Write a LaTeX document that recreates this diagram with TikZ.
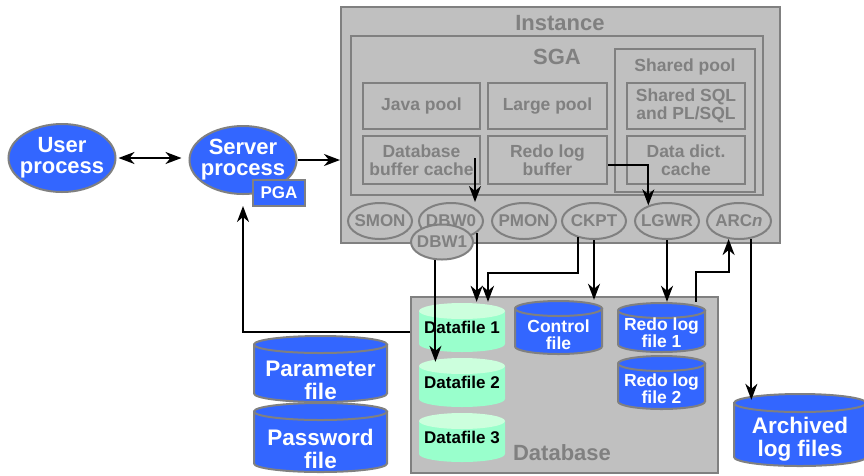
\documentclass[tikz,border=0pt]{standalone}
\usepackage{fontspec}
\setmainfont{Liberation Sans}
\usetikzlibrary{calc,shapes.geometric,arrows.meta}
\tikzset{>={Stealth[length=16pt,width=12pt,inset=5pt]}}
\definecolor{oblue}{HTML}{3366FF}
\definecolor{ogray}{HTML}{C0C0C0}
\definecolor{oline}{HTML}{808080}
\definecolor{omint}{HTML}{99FFCC}
\definecolor{omintlt}{HTML}{CCFFDD}
\tikzset{
  area/.style={draw=oline,line width=2pt,fill=ogray,inner sep=0pt},
  areatxt/.style={text=oline,inner sep=0pt,font=\bfseries\fontsize{22}{22}\selectfont},
  memtxt/.style={text=oline,inner sep=0pt,align=center,font=\bfseries\fontsize{17.5}{18}\selectfont},
  membox/.style={memtxt,draw=oline,line width=2pt},
  bgproc/.style={ellipse,draw=oline,line width=2pt,fill=ogray,minimum width=64pt,minimum height=36pt,
    inner sep=-8pt,text=oline,font=\bfseries\fontsize{17}{17}\selectfont},
  fgproc/.style={ellipse,draw=oline,line width=2pt,fill=oblue,minimum width=107pt,minimum height=68pt,
    inner sep=-8pt,align=center,text=white,font=\bfseries\fontsize{22}{21}\selectfont},
  can ry/.initial=8pt,
  can line/.initial=oline,
  can body/.initial=oblue,
  can end/.initial=oblue,
  can/.style={inner sep=0pt,path picture={
    \draw[line width=2pt,draw=\pgfkeysvalueof{/tikz/can line},fill=\pgfkeysvalueof{/tikz/can body}]
      let \p1=(path picture bounding box.south west),\p2=(path picture bounding box.north east),
          \n1={\pgfkeysvalueof{/tikz/can ry}},\n2={(\x2-\x1)/2-1pt} in
      (\x1+1pt,\y2-1pt-\n1) -- (\x1+1pt,\y1+1pt+\n1)
      arc[start angle=180,end angle=360,x radius=\n2,y radius=\n1]
      -- (\x2-1pt,\y2-1pt-\n1) -- cycle;
    \draw[line width=2pt,draw=\pgfkeysvalueof{/tikz/can line},fill=\pgfkeysvalueof{/tikz/can end}]
      let \p1=(path picture bounding box.south west),\p2=(path picture bounding box.north east),
          \n1={\pgfkeysvalueof{/tikz/can ry}},\n2={(\x2-\x1)/2-1pt} in
      (\x1/2+\x2/2,\y2-1pt-\n1) ellipse[x radius=\n2,y radius=\n1];
  }},
  filetxt/.style={text=white,align=center,inner sep=0pt,font=\bfseries\fontsize{17.5}{17}\selectfont},
  bigtxt/.style={filetxt,font=\bfseries\fontsize{22.5}{23}\selectfont},
  datafile/.style={can,can line=none,can body=omint,can end=omintlt,minimum width=88pt,minimum height=51pt,
    font=\bfseries\fontsize{17}{17}\selectfont},
  flow/.style={->,line width=2pt}
}
\begin{document}
\begin{tikzpicture}[x=1pt,y=-1pt]
\useasboundingbox (0,0) rectangle (864,475);
\node[area,minimum width=439pt,minimum height=236pt] (inst) at (560.5,125) {};
\node[areatxt] at (560,23) {Instance};
\node[area,minimum width=412pt,minimum height=159pt] (sga) at (557,115.5) {};
\node[areatxt] at (557,57) {SGA};
\node[area,minimum width=140pt,minimum height=143pt] (shpool) at (685,120.5) {};
\node[memtxt] at (685,67) {Shared pool};
\node[membox,minimum width=117pt,minimum height=46pt] (java) at (421.5,106) {Java pool};
\node[membox,minimum width=119pt,minimum height=46pt] (large) at (547.5,106) {Large pool};
\node[membox,minimum width=118pt,minimum height=46pt] (sql) at (686,106) {Shared SQL\\and PL/SQL};
\node[membox,minimum width=117pt,minimum height=48pt] (dbcache) at (421.5,160) {Database\\buffer cache};
\node[membox,minimum width=119pt,minimum height=48pt] (redobuf) at (547.5,160) {Redo log\\buffer};
\node[membox,minimum width=118pt,minimum height=48pt] (dict) at (686,160) {Data dict.\\cache};
\node[bgproc] (smon) at (380,221) {SMON};
\node[bgproc] (dbw0) at (451,221) {DBW0};
\node[bgproc] (pmon) at (524,221) {PMON};
\node[bgproc] (ckpt) at (594,221) {CKPT};
\node[bgproc] (lgwr) at (667,221) {LGWR};
\node[bgproc] (arcn) at (739,221) {ARC\textit{n}};
\node[bgproc,minimum width=62pt,minimum height=35pt] (dbw1) at (442,242) {DBW1};
\node[area,minimum width=307pt,minimum height=176pt] (db) at (564.5,385) {};
\node[areatxt] at (562,453) {Database};
\node[datafile] (df1) at (462,327.5) {Datafile 1};
\node[datafile] (df2) at (462,382.5) {Datafile 2};
\node[datafile] (df3) at (462,437.5) {Datafile 3};
\node[can,can ry=7.5pt,minimum width=89pt,minimum height=55pt,
  label={[filetxt,yshift=-7pt]center:{Control\\file}}] (ctrl) at (558.5,327.5) {};
\node[can,can ry=7.5pt,minimum width=89pt,minimum height=51pt,
  label={[filetxt,yshift=-5pt]center:{Redo log\\file 1}}] (redo1) at (661.5,327.5) {};
\node[can,can ry=7.5pt,minimum width=89pt,minimum height=55pt,
  label={[filetxt,yshift=-6pt]center:{Redo log\\file 2}}] (redo2) at (661.5,382.5) {};
\node[can,can ry=8.5pt,minimum width=135pt,minimum height=68pt,
  label={[bigtxt,yshift=-11pt]center:{Parameter\\file}}] (param) at (320.5,369) {};
\node[can,can ry=8.5pt,minimum width=135pt,minimum height=71pt,
  label={[bigtxt,yshift=-11pt]center:{Password\\file}}] (passwd) at (320.5,437.5) {};
\node[can,can ry=9pt,minimum width=134pt,minimum height=74pt,
  label={[bigtxt,yshift=-9pt]center:{Archived\\log files}}] (arch) at (800,430) {};
\node[fgproc] (user) at (62,158) {User\\process};
\node[fgproc] (server) at (243,160) {Server\\process};
\node[draw=oline,line width=2pt,fill=oblue,text=white,inner sep=0pt,minimum width=52pt,minimum height=26pt,
  font=\bfseries\fontsize{17}{17}\selectfont] (pga) at (279,193) {PGA};
\coordinate (bufout) at (475,158);
\draw[<->,line width=2pt,shorten <=2pt,shorten >=7pt] (user.east) -- (user.east -| server.west);
\draw[flow] (server.east) -- (server.east -| inst.west);
\draw[flow] ([yshift=53pt]db.west) -| ([yshift=-11pt]server.south);
\draw[flow] (bufout) -- (bufout |- dbw0.north);
\draw[flow] ([yshift=-5pt]redobuf.east) -| (lgwr.140);
\draw[flow] (dbw0.-25) -- (dbw0.-25 |- df1.north);
\draw[flow] (ckpt.-135) -- ++(0,36) -| ([xshift=26pt]df1.north);
\draw[flow] (ckpt.south) -- (ckpt.south |- ctrl.north);
\draw[flow] (lgwr.south) -- (lgwr.south |- redo1.north);
\draw[flow] ([xshift=34pt]redo1.north) -- ++(0,-30) -| (arcn.-120);
\draw[flow,shorten >=-7pt] (arcn.-55) -- (arcn.-55 |- arch.north);
\draw[flow,shorten >=-5pt] (dbw1.-110) -- (dbw1.-110 |- df2.north);
\end{tikzpicture}
\end{document}
